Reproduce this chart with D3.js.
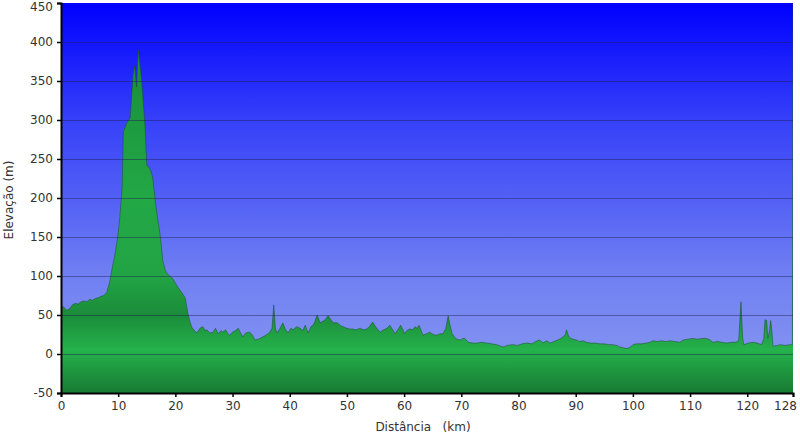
<!DOCTYPE html>
<html><head><meta charset="utf-8">
<script src="https://cdn.jsdelivr.net/npm/d3@7"></script>
<style>html,body{margin:0;padding:0;background:#fff;}svg{display:block;}</style>
</head><body>
<svg id="chart" width="800" height="439"></svg>
<script>
// Distance (km)
const distances = [0,0.5,1,1.5,2,2.5,3,3.5,4,4.5,5,5.5,6,6.5,7,7.5,8,8.5,9,9.5,10,10.3,10.7,10.9,11.5,12.1,12.6,12.9,13.2,13.5,13.8,14.1,14.7,15,15.5,15.9,16.1,16.5,16.8,17.3,17.8,18.2,18.5,19.1,19.5,19.9,20.4,20.8,21.2,21.7,22.2,22.6,22.9,23.3,23.8,24.3,24.8,25.2,25.5,26,26.6,27,27.5,28,28.3,28.8,29.2,29.5,30,30.5,31,31.4,31.8,32.3,33,33.5,33.9,34.5,35.3,35.8,36.5,36.9,37.2,37.5,37.8,38.3,38.8,39.2,39.7,40.2,40.6,41.2,41.8,42.3,42.7,43.2,43.7,44.2,44.8,45.3,45.8,46.2,46.7,47.1,47.6,48.3,48.8,49.3,50,50.5,51,51.6,52.3,52.9,53.5,54,54.5,55,55.8,56.4,57,57.5,58,58.4,58.9,59.4,60.1,60.5,61,61.5,61.9,62.3,62.6,63.3,63.9,64.5,65.1,65.7,66.3,66.8,67.3,67.7,68,68.4,68.8,69.2,69.8,70.3,70.6,71.2,72,72.8,73.5,74.5,75.3,76.2,77.3,78,79,79.8,80.6,81.5,82.3,83,83.7,84.3,84.9,85.5,86.2,87.2,87.8,88.2,88.4,88.7,89.1,89.5,90.1,90.7,91.3,91.9,92.6,93.4,94.2,95,95.8,96.5,97.2,97.7,98.3,99,99.6,100,100.7,101.5,102.4,103,103.5,104.2,105,105.8,106.5,107.3,108.2,108.8,109.6,110.5,111.3,112.1,112.9,113.5,114,114.8,115.6,116.4,117.2,118,118.5,118.9,119.2,119.4,120.2,121,121.7,122.5,122.9,123.1,123.4,123.6,123.9,124.1,124.3,124.5,125.2,125.8,126.6,127.5,127.9,128];
// Elevation (m)
const elevations = [62,60,56,58,63,65,64,67,68,67,70,69,71,72,74,75,79,92,112,130,155,176,214,285,296,303,358,370,342,390,372,351,291,242,238,230,222,195,178,155,120,108,104,99,97,92,86,82,78,72,52,40,34,30,27,33,35,30,31,27,28,33,26,30,28,31,26,24,28,30,33,27,22,27,28,24,18,19,22,24,28,33,63,32,27,33,40,32,27,33,31,35,33,30,37,27,35,38,50,40,42,44,49,45,40,40,37,35,33,32,32,31,33,31,32,36,41,35,28,31,33,37,31,26,31,37,26,30,32,31,35,33,37,24,26,28,25,24,26,26,33,49,38,26,22,19,18,20,20,15,14,14,15,14,13,12,9,11,12,11,13,14,13,16,18,14,17,14,16,19,22,25,31,24,20,19,18,16,17,15,14,14,13,13,12,12,11,9,8,7,9,12,13,13,14,15,17,16,17,16,17,16,15,18,19,20,19,20,20,18,15,16,15,14,15,15,17,67,20,12,14,15,14,12,20,44,43,20,30,43,30,10,11,12,11,12,12,470];
const xTicks = [0,10,20,30,40,50,60,70,80,90,100,110,120,128];
const yTicks = [-50,0,50,100,150,200,250,300,350,400,450];
const xTitle = "Distância   (km)";
const yTitle = "Elevação (m)";

const svg = d3.select("#chart");
const pL = 61, pR = 793, pT = 3, pB = 393;
const x = d3.scaleLinear().domain([0,128]).range([pL,pR]);
const y = d3.scaleLinear().domain([-50,450]).range([pB,pT]);

const defs = svg.append("defs");
const sky = defs.append("linearGradient").attr("id","sky").attr("x1",0).attr("y1",0).attr("x2",0).attr("y2",1);
[[0,"#0000ff"],[0.3,"#3640f8"],[0.7,"#7080f2"],[1,"#8a9af0"]].forEach(s=>sky.append("stop").attr("offset",s[0]).attr("stop-color",s[1]));
const grn = defs.append("linearGradient").attr("id","grn").attr("gradientUnits","userSpaceOnUse")
  .attr("x1",0).attr("x2",0).attr("y1",y(450)).attr("y2",y(-50));
[[450,"#16803a"],[300,"#1d9a40"],[200,"#23a846"],[100,"#22a445"],[50,"#1b8c3a"],[5,"#25b24c"],[-50,"#187a33"]]
  .forEach(s=>grn.append("stop").attr("offset",(y(s[0])-y(450))/(y(-50)-y(450))).attr("stop-color",s[1]));
defs.append("clipPath").attr("id","clip").append("rect").attr("x",pL).attr("y",pT).attr("width",pR-pL).attr("height",pB-pT);

svg.append("rect").attr("x",pL).attr("y",pT).attr("width",pR-pL).attr("height",pB-pT).attr("fill","url(#sky)");

const n = Math.min(distances.length, elevations.length);
const pts = d3.range(n).map(i=>[distances[i],elevations[i]]);
const area = d3.area().x(d=>x(d[0])).y0(y(-50)).y1(d=>y(d[1]));
const line = d3.line().x(d=>x(d[0])).y(d=>y(d[1]));
const g = svg.append("g").attr("clip-path","url(#clip)");
g.append("path").datum(pts).attr("d",area).attr("fill","url(#grn)");
g.append("path").datum(pts).attr("d",line).attr("fill","none").attr("stroke","#1a4a28").attr("stroke-opacity",0.55).attr("stroke-width",0.9);

// grid
g.selectAll(".grid").data(yTicks.filter(v=>v>-50&&v<450)).enter().append("line")
  .attr("x1",pL).attr("x2",pR).attr("y1",v=>Math.round(y(v))+0.5).attr("y2",v=>Math.round(y(v))+0.5)
  .attr("stroke","#1a1a50").attr("stroke-opacity",0.45).attr("stroke-width",1);

const font = "DejaVu Sans, Verdana, sans-serif";
const fmt = d => String(d);
const yAxis = d3.axisLeft(y).tickValues(yTicks).tickFormat(fmt).tickSize(4).tickPadding(4);
const ya = svg.append("g").attr("transform",`translate(${pL},0)`).call(yAxis);
const xAxis = d3.axisBottom(x).tickValues(xTicks).tickFormat(fmt).tickSize(4).tickPadding(4);
const xa = svg.append("g").attr("transform",`translate(0,${pB})`).call(xAxis);
[ya,xa].forEach(a=>{
  a.select(".domain").attr("stroke","#000").attr("stroke-width",2);
  a.selectAll(".tick line").attr("stroke","#000").attr("stroke-width",1.5);
  a.selectAll("text").attr("font-family",font).attr("font-size",12).attr("fill","#333");
});
ya.selectAll(".tick text").filter(d=>d===450).attr("dy","0.32em").attr("y",4);
xa.selectAll(".tick text").filter(d=>d===128).attr("dx",-8);

svg.append("text").attr("x",423).attr("y",431).attr("text-anchor","middle")
  .attr("font-family",font).attr("font-size",12).attr("fill","#333").style("white-space","pre").text(xTitle);
svg.append("text").attr("transform","translate(13,200) rotate(-90)").attr("text-anchor","middle")
  .attr("font-family",font).attr("font-size",12).attr("fill","#333").text(yTitle);
</script>
</body></html>
